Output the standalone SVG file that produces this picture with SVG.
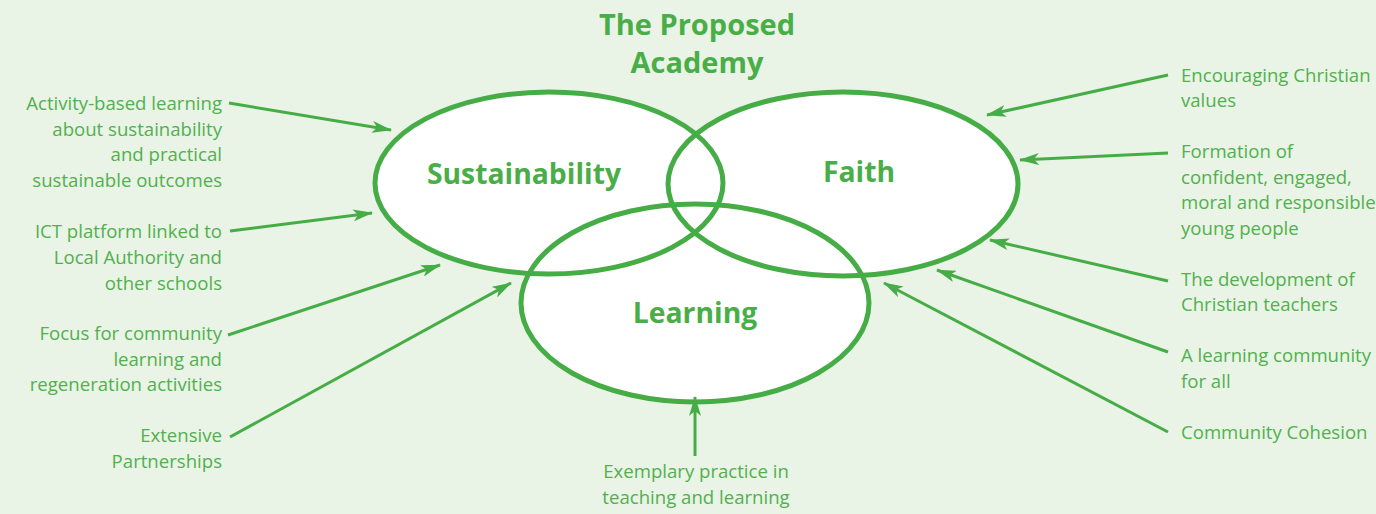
<svg xmlns="http://www.w3.org/2000/svg" width="1376" height="514" viewBox="0 0 1376 514">
  <defs>
    <marker id="arrow" viewBox="0 0 20 12" refX="19" refY="6" markerWidth="20" markerHeight="12" markerUnits="userSpaceOnUse" orient="auto">
      <path d="M0,0 L20,6 L0,12 L5,6 z" fill="#46ad46"/>
    </marker>
    <style>
      .bg { fill: #e9f4e6; }
      .fill { fill: #ffffff; stroke: none; }
      .ring { fill: none; stroke: #46ad46; stroke-width: 5; }
      .title { font-family: "Open Sans", "DejaVu Sans", sans-serif; font-weight: bold; font-size: 29px; fill: #4aae48; text-anchor: middle; }
      .big { font-family: "Open Sans", "DejaVu Sans", sans-serif; font-weight: bold; font-size: 28.3px; fill: #4aae48; text-anchor: middle; }
      .note { font-family: "Open Sans", "DejaVu Sans", sans-serif; font-size: 18.6px; fill: #52b04e; }
      .r { text-anchor: end; }
      .m { text-anchor: middle; }
      .link { fill: none; stroke: #46ad46; stroke-width: 3; marker-end: url(#arrow); }
    </style>
  </defs>

  <rect class="bg" x="0" y="0" width="1376" height="514"/>

  <g id="title">
    <text class="title" x="697" y="35">The Proposed</text>
    <text class="title" x="697" y="73">Academy</text>
  </g>

  <!-- white interiors first so every outline stays visible -->
  <g id="fills">
    <ellipse class="fill" cx="549" cy="183" rx="174" ry="91"/>
    <ellipse class="fill" cx="843" cy="184" rx="175" ry="92"/>
    <ellipse class="fill" cx="695" cy="303" rx="174" ry="99"/>
  </g>

  <g id="sustainability">
    <ellipse class="ring" cx="549" cy="183" rx="174" ry="91"/>
    <text class="big" x="524" y="184">Sustainability</text>
  </g>
  <g id="faith">
    <ellipse class="ring" cx="843" cy="184" rx="175" ry="92"/>
    <text class="big" x="859" y="182">Faith</text>
  </g>
  <g id="learning">
    <ellipse class="ring" cx="695" cy="303" rx="174" ry="99"/>
    <text class="big" x="695" y="323">Learning</text>
  </g>

  <g id="connectors">
    <line class="link" x1="229" y1="103" x2="391" y2="130"/>
    <line class="link" x1="230" y1="231" x2="372" y2="213"/>
    <line class="link" x1="228" y1="335" x2="440" y2="265"/>
    <line class="link" x1="230" y1="437" x2="511" y2="283"/>
    <line class="link" x1="695" y1="456" x2="695" y2="397"/>
    <line class="link" x1="1168" y1="75" x2="987" y2="115"/>
    <line class="link" x1="1168" y1="153" x2="1020" y2="160"/>
    <line class="link" x1="1168" y1="281" x2="990" y2="240"/>
    <line class="link" x1="1168" y1="352" x2="937" y2="270"/>
    <line class="link" x1="1168" y1="432" x2="884" y2="283"/>
  </g>

  <g id="note-activity">
    <text class="note r" x="222" y="110">Activity-based learning</text>
    <text class="note r" x="222" y="136">about sustainability</text>
    <text class="note r" x="222" y="161">and practical</text>
    <text class="note r" x="222" y="187">sustainable outcomes</text>
  </g>
  <g id="note-ict">
    <text class="note r" x="222" y="238">ICT platform linked to</text>
    <text class="note r" x="222" y="264">Local Authority and</text>
    <text class="note r" x="222" y="290">other schools</text>
  </g>
  <g id="note-focus">
    <text class="note r" x="222" y="340">Focus for community</text>
    <text class="note r" x="222" y="366">learning and</text>
    <text class="note r" x="222" y="391">regeneration activities</text>
  </g>
  <g id="note-partnerships">
    <text class="note r" x="222" y="442">Extensive</text>
    <text class="note r" x="222" y="468">Partnerships</text>
  </g>
  <g id="note-exemplary">
    <text class="note m" x="696" y="478">Exemplary practice in</text>
    <text class="note m" x="696" y="504">teaching and learning</text>
  </g>
  <g id="note-values">
    <text class="note" x="1181" y="82">Encouraging Christian</text>
    <text class="note" x="1181" y="107">values</text>
  </g>
  <g id="note-formation">
    <text class="note" x="1181" y="158">Formation of</text>
    <text class="note" x="1181" y="184">confident, engaged,</text>
    <text class="note" x="1181" y="209">moral and responsible</text>
    <text class="note" x="1181" y="235">young people</text>
  </g>
  <g id="note-teachers">
    <text class="note" x="1181" y="286">The development of</text>
    <text class="note" x="1181" y="311">Christian teachers</text>
  </g>
  <g id="note-community">
    <text class="note" x="1181" y="362">A learning community</text>
    <text class="note" x="1181" y="388">for all</text>
  </g>
  <g id="note-cohesion">
    <text class="note" x="1181" y="439">Community Cohesion</text>
  </g>
</svg>
